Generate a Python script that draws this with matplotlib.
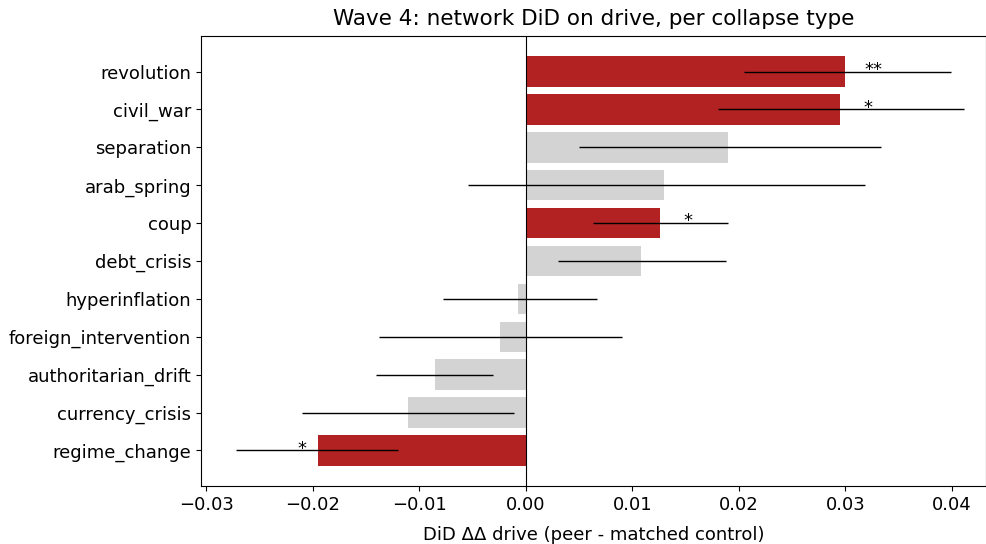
import numpy as np
import matplotlib.pyplot as plt

# collapse types, top to bottom
types = ["revolution", "civil_war", "separation", "arab_spring", "coup",
         "debt_crisis", "hyperinflation", "foreign_intervention",
         "authoritarian_drift", "currency_crisis", "regime_change"]
did = [0.0300, 0.0295, 0.0190, 0.0130, 0.0126, 0.0108,
       -0.0007, -0.0024, -0.0085, -0.0111, -0.0195]
ci_lo = [0.0205, 0.0180, 0.0050, -0.0054, 0.0063, 0.0030,
         -0.0078, -0.0138, -0.0141, -0.0210, -0.0272]
ci_hi = [0.0399, 0.0411, 0.0333, 0.0318, 0.0190, 0.0188,
         0.0067, 0.0090, -0.0031, -0.0011, -0.0120]
stars = ["**", "*", "", "", "*", "", "", "", "", "", "*"]

did = np.array(did)
lo = did - np.array(ci_lo)
hi = np.array(ci_hi) - did
y = np.arange(len(types))[::-1]
colors = ["firebrick" if s else "lightgray" for s in stars]

fig = plt.figure(figsize=(9.87, 5.44), dpi=100)
ax = fig.add_axes([0.2037, 0.1066, 0.7953, 0.8272])

ax.barh(y, did, height=0.8, color=colors)
ax.errorbar(did, y, xerr=[lo, hi], fmt="none", ecolor="black", elinewidth=1)
ax.axvline(0, color="black", linewidth=0.8)

for yi, v, s in zip(y, did, stars):
    if s:
        xs = v + 0.0026 if v > 0 else v - 0.0015
        ax.text(xs, yi + 0.05, s, ha="center", va="center", fontsize=13)

ax.set_yticks(y)
ax.set_yticklabels(types, fontsize=13)
ax.tick_params(axis="x", labelsize=13)
ax.set_xlim(-0.0305, 0.0432)
ax.set_xlabel("DiD \u0394\u0394 drive (peer - matched control)", fontsize=13,
              labelpad=9)
ax.set_title("Wave 4: network DiD on drive, per collapse type", fontsize=15.5,
             pad=8)

fig.savefig("out.png", dpi=100)
